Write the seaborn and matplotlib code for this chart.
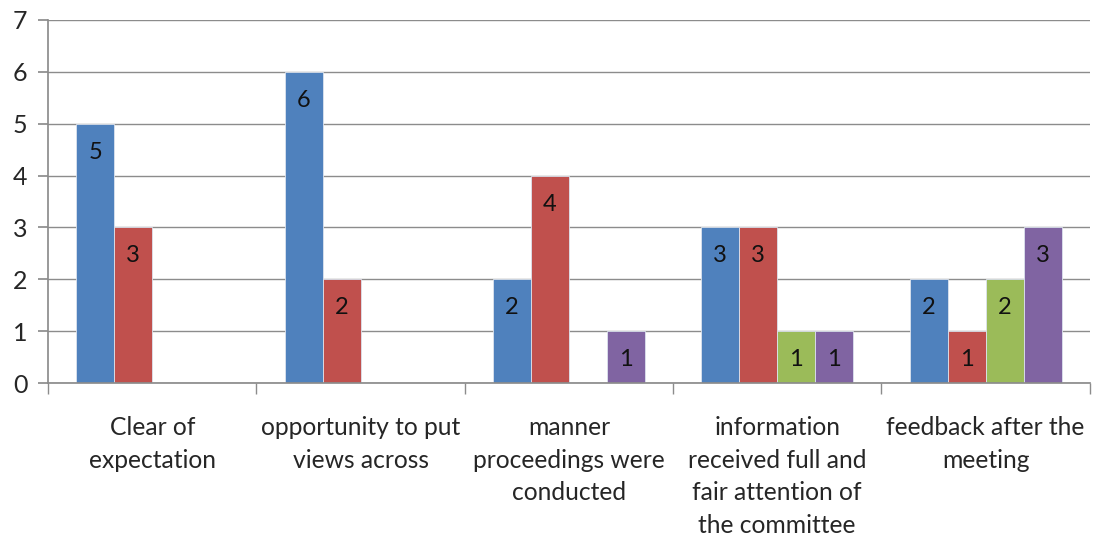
import numpy as np
import pandas as pd
import matplotlib
matplotlib.use('Agg')
import matplotlib.pyplot as plt
import seaborn as sns

# data
categories = [
    "Clear of\nexpectation",
    "opportunity to put\nviews across",
    "manner\nproceedings were\nconducted",
    "information\nreceived full and\nfair attention of\nthe committee",
    "feedback after the\nmeeting",
]
series_names = ["S1", "S2", "S3", "S4"]
s1 = [5, 6, 2, 3, 2]
s2 = [3, 2, 4, 3, 1]
s3 = [0, 0, 0, 1, 2]
s4 = [0, 0, 1, 1, 3]
colors = ["#4F81BD", "#C0504D", "#9BBB59", "#8064A2"]

rows = []
for name, vals in zip(series_names, [s1, s2, s3, s4]):
    for cat, v in zip(categories, vals):
        rows.append({"category": cat, "series": name, "value": v})
df = pd.DataFrame(rows)

sns.set_theme(style="white")
plt.rcParams['font.family'] = ['Lato', 'DejaVu Sans']

fig = plt.figure(figsize=(10.93, 5.38), dpi=100)
ax = fig.add_axes([0.044, 0.288, 0.953, 0.675])

sns.barplot(data=df, x="category", y="value", hue="series", order=categories,
            hue_order=series_names, palette=colors, width=0.73, gap=0,
            edgecolor="#dce3ee", linewidth=0.6, saturation=1, legend=False, ax=ax)

# value labels inside the top of each bar
for cont in ax.containers:
    for p in cont:
        h = p.get_height()
        if h > 0:
            ax.text(p.get_x() + p.get_width() / 2, h - 0.55, f"{h:g}",
                    ha="center", va="center", fontsize=17, color="#111111")

ax.set_ylim(0, 7)
ax.set_xlim(-0.5, len(categories) - 0.5)
ax.set_yticks(range(0, 8))
ax.yaxis.grid(True, color="#8c8c8c", linewidth=1)
ax.set_axisbelow(True)
for s in ["top", "right"]:
    ax.spines[s].set_visible(False)
ax.spines["left"].set_color("#8c8c8c")
ax.spines["bottom"].set_color("#8c8c8c")

ax.tick_params(axis="y", left=True, length=7, color="#8c8c8c", labelsize=18, pad=8)
ax.set_xticks(range(len(categories)))
ax.set_xticklabels(categories, fontsize=17.7, linespacing=1.5)
ax.tick_params(axis="x", which="major", length=0, pad=24)
ax.set_xticks(np.arange(-0.5, len(categories), 1), minor=True)
ax.tick_params(axis="x", which="minor", bottom=True, length=8, color="#8c8c8c")
for lab in ax.get_xticklabels():
    lab.set_va("top")

ax.set_xlabel("")
ax.set_ylabel("")

fig.savefig("out.png", dpi=100)
